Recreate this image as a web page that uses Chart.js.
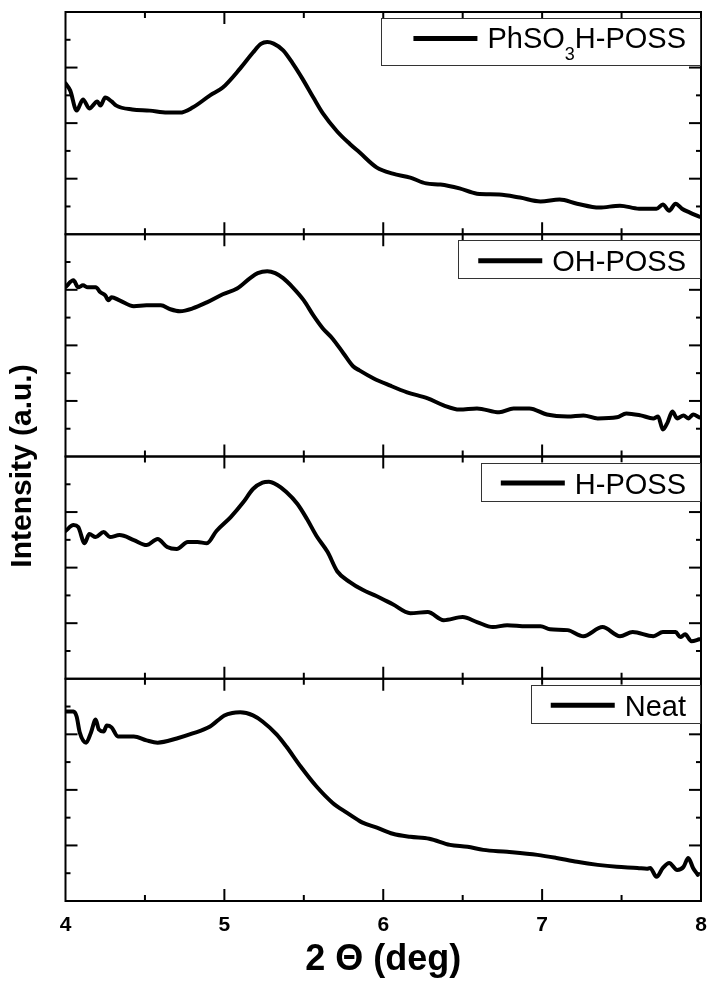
<!DOCTYPE html>
<html>
<head>
<meta charset="utf-8">
<script src="https://cdn.jsdelivr.net/npm/chart.js@4.4.1/dist/chart.umd.min.js"></script>
<style>
html,body{margin:0;padding:0;background:#fff;}
#wrap{width:707px;height:982px;position:relative;}
canvas{display:block;}
</style>
</head>
<body>
<div id="wrap"><canvas id="c" width="707" height="982"></canvas></div>
<script>
// ---------------- data ----------------
const xTickLabels = [4, 5, 6, 7, 8];
const seriesLabels = ['PhSO_3H-POSS', 'OH-POSS', 'H-POSS', 'Neat']; // top to bottom, "_3" = subscript

const xPh = [4.00,4.03,4.07,4.11,4.15,4.20,4.22,4.25,4.29,4.32,4.42,4.53,4.64,4.72,4.80,4.91,4.99,5.10,5.18,5.23,5.27,5.31,5.37,5.43,5.49,5.56,5.62,5.71,5.79,5.85,5.96,6.06,6.17,6.27,6.36,6.48,6.59,6.73,6.86,6.99,7.11,7.22,7.36,7.49,7.61,7.72,7.76,7.80,7.84,7.88,7.93,7.99];
const yPh = [5.43,5.17,4.45,4.85,4.53,4.78,4.63,4.92,4.78,4.63,4.49,4.45,4.38,4.38,4.56,5.00,5.28,5.97,6.54,6.85,6.92,6.86,6.62,6.15,5.61,4.92,4.35,3.70,3.25,2.95,2.40,2.18,2.04,1.83,1.79,1.65,1.46,1.43,1.32,1.18,1.25,1.10,0.96,1.03,0.92,0.92,1.07,0.85,1.10,0.92,0.78,0.63];

const xOH = [4.00,4.05,4.08,4.11,4.14,4.19,4.22,4.25,4.27,4.29,4.34,4.43,4.51,4.60,4.66,4.72,4.80,4.89,4.99,5.08,5.16,5.21,5.27,5.32,5.37,5.43,5.50,5.56,5.62,5.68,5.75,5.81,5.85,5.94,6.04,6.15,6.28,6.38,6.48,6.59,6.73,6.82,6.92,7.03,7.16,7.26,7.35,7.47,7.53,7.62,7.70,7.73,7.76,7.79,7.82,7.85,7.89,7.92,7.95,7.99];
const yOH = [6.10,6.34,6.09,6.16,6.09,6.09,5.91,5.80,5.62,5.73,5.62,5.41,5.44,5.44,5.30,5.23,5.33,5.55,5.84,6.05,6.41,6.60,6.67,6.60,6.42,6.09,5.62,5.08,4.61,4.25,3.71,3.25,3.10,2.81,2.56,2.31,2.09,1.84,1.69,1.73,1.59,1.73,1.73,1.51,1.44,1.48,1.37,1.41,1.55,1.48,1.37,1.44,0.97,1.23,1.62,1.37,1.48,1.37,1.51,1.41];

const xH = [4.00,4.05,4.08,4.12,4.15,4.19,4.24,4.28,4.34,4.43,4.51,4.58,4.64,4.70,4.77,4.83,4.89,4.95,5.04,5.12,5.18,5.24,5.28,5.33,5.39,5.46,5.52,5.58,5.65,5.71,5.79,5.87,5.96,6.06,6.17,6.28,6.38,6.50,6.59,6.69,6.78,6.90,6.99,7.05,7.16,7.26,7.38,7.49,7.57,7.70,7.76,7.84,7.87,7.90,7.94,7.99];
const yH = [5.32,5.53,5.46,4.88,5.21,5.10,5.28,5.10,5.17,4.99,4.81,5.03,4.74,4.67,4.92,4.92,4.88,5.32,5.82,6.36,6.83,7.06,7.09,6.98,6.72,6.29,5.75,5.14,4.56,3.87,3.48,3.20,2.97,2.68,2.36,2.40,2.11,2.22,2.04,1.86,1.93,1.89,1.89,1.78,1.75,1.53,1.86,1.53,1.68,1.53,1.68,1.68,1.50,1.60,1.35,1.42];

const xNeat = [4.00,4.05,4.07,4.09,4.13,4.16,4.19,4.21,4.24,4.26,4.29,4.33,4.43,4.51,4.58,4.70,4.80,4.91,5.00,5.05,5.10,5.18,5.24,5.33,5.39,5.48,5.58,5.68,5.77,5.84,5.87,5.96,6.06,6.17,6.29,6.42,6.53,6.63,6.78,6.97,7.09,7.22,7.35,7.47,7.60,7.66,7.68,7.72,7.76,7.80,7.85,7.89,7.92,7.95,7.98];
const yNeat = [6.82,6.82,6.64,6.06,5.70,6.06,6.53,6.17,6.10,6.32,6.25,5.92,5.92,5.78,5.70,5.85,6.03,6.28,6.68,6.77,6.79,6.68,6.46,5.99,5.56,4.84,4.12,3.54,3.18,2.92,2.82,2.64,2.42,2.31,2.24,2.02,1.95,1.84,1.77,1.66,1.55,1.41,1.30,1.23,1.19,1.16,1.19,0.87,1.19,1.37,1.12,1.23,1.55,1.19,0.94];

// ---------------- chart ----------------
const FONT = "'Liberation Sans', Arial, Helvetica, sans-serif";
const panelIds = ['yPh', 'yOH', 'yH', 'yNeat']; // top to bottom
const xs = [xPh, xOH, xH, xNeat];
const ys = [yPh, yOH, yH, yNeat];

const datasets = panelIds.map((id, i) => ({
  label: seriesLabels[i],
  data: xs[i].map((x, k) => ({x: x, y: ys[i][k]})),
  yAxisID: id,
  borderColor: '#000',
  backgroundColor: '#000',
  borderWidth: 4,
  pointRadius: 0,
  cubicInterpolationMode: 'monotone',
  borderJoinStyle: 'round',
  borderCapStyle: 'round',
  fill: false
}));

function yAxis() {
  return {
    type: 'linear', position: 'left', stack: 'panels', stackWeight: 1,
    min: 0, max: 8, offset: false,
    ticks: {display: false, stepSize: 1},
    grid: {display: false, drawTicks: false},
    border: {display: false},
    afterFit: s => { s.width = 0; s.paddingTop = 0; s.paddingBottom = 0; }
  };
}

// first defined left axis is placed at the bottom of the stack
const scales = {
  x: {
    type: 'linear', position: 'bottom', min: 4, max: 8, offset: false,
    ticks: {
      stepSize: 1, autoSkip: false, maxRotation: 0, padding: 12, color: '#000',
      font: {family: FONT, size: 21, weight: 'bold'},
      callback: v => xTickLabels.includes(v) ? String(v) : ''
    },
    grid: {display: false, drawTicks: false},
    border: {display: false},
    title: {display: true, text: '2 Θ (deg)', color: '#000',
      font: {family: FONT, size: 36, weight: 'bold'}, padding: {top: 0, bottom: 0}},
    afterFit: s => { s.height = 81; s.paddingLeft = 0; s.paddingRight = 0; }
  },
  yNeat: yAxis(), yH: yAxis(), yOH: yAxis(), yPh: yAxis()
};

function line(ctx, x1, y1, x2, y2) {
  ctx.beginPath(); ctx.moveTo(x1, y1); ctx.lineTo(x2, y2); ctx.stroke();
}

const framePlugin = {
  id: 'frames',
  afterDatasetsDraw(chart) {
    const ctx = chart.ctx;
    const xsc = chart.scales.x;
    const L = chart.chartArea.left, R = chart.chartArea.right;
    ctx.save();
    ctx.strokeStyle = '#000';
    ctx.lineWidth = 2;
    ctx.lineCap = 'butt';
    panelIds.forEach(id => {
      const s = chart.scales[id];
      const T = s.top, B = s.bottom;
      ctx.strokeRect(L, T, R - L, B - T);
      for (let k = 1; k < 8; k++) {
        const v = 4 + k * 0.5;
        const px = xsc.getPixelForValue(v);
        const len = (k % 2 === 0) ? 12 : 6;
        line(ctx, px, T, px, T + len);
        line(ctx, px, B, px, B - len);
      }
      s.ticks.forEach(t => {
        if (t.value <= s.min || t.value >= s.max) return;
        const py = s.getPixelForValue(t.value);
        const len = (t.value % 2 === 0) ? 12 : 5;
        line(ctx, L, py, L + len, py);
        line(ctx, R, py, R - len, py);
      });
    });
    ctx.restore();
  },
  afterDraw(chart) {
    const ctx = chart.ctx;
    const R = chart.chartArea.right;
    ctx.save();
    // y title
    ctx.fillStyle = '#000';
    ctx.font = "bold 30px " + FONT;
    ctx.textAlign = 'center';
    ctx.textBaseline = 'alphabetic';
    ctx.translate(31, 466);
    ctx.rotate(-Math.PI / 2);
    ctx.fillText('Intensity (a.u.)', 0, 0);
    ctx.restore();

    // legends
    panelIds.forEach((id, i) => {
      const s = chart.scales[id];
      const label = chart.data.datasets[i].label;
      const parts = [];
      const m = label.split('_');
      parts.push({t: m[0], sub: false});
      if (m.length > 1) {
        parts.push({t: m[1].charAt(0), sub: true});
        parts.push({t: m[1].slice(1), sub: false});
      }
      ctx.save();
      let tw = 0;
      parts.forEach(p => {
        ctx.font = (p.sub ? '18px ' : '29px ') + FONT;
        p.w = ctx.measureText(p.t).width;
        tw += p.w;
      });
      const hasSub = parts.length > 1;
      const boxR = R - 1;
      const boxTop = s.top + 6;
      const boxH = hasSub ? 47 : 38;
      const lineLen = 64, gap = 10, padR = 14, padL = hasSub ? 32 : 20;
      const boxL = boxR - (padL + lineLen + gap + tw + padR);
      ctx.fillStyle = '#fff';
      ctx.fillRect(boxL, boxTop, boxR - boxL, boxH);
      ctx.strokeStyle = '#333';
      ctx.lineWidth = 1;
      ctx.strokeRect(Math.round(boxL) + 0.5, Math.round(boxTop) + 0.5, Math.round(boxR - boxL), boxH);
      const ly = boxTop + 20.5;
      ctx.strokeStyle = '#000';
      ctx.lineWidth = 5;
      ctx.lineCap = 'butt';
      line(ctx, boxL + padL, ly, boxL + padL + lineLen, ly);
      let tx = boxL + padL + lineLen + gap;
      const base = boxTop + (hasSub ? 30 : 31);
      ctx.fillStyle = '#000';
      ctx.textAlign = 'left';
      ctx.textBaseline = 'alphabetic';
      parts.forEach(p => {
        ctx.font = (p.sub ? '18px ' : '29px ') + FONT;
        ctx.fillText(p.t, tx, p.sub ? base + 12 : base);
        tx += p.w;
      });
      ctx.restore();
    });
  }
};

new Chart(document.getElementById('c'), {
  type: 'line',
  data: {datasets: datasets},
  options: {
    responsive: false,
    animation: false,
    events: [],
    layout: {padding: {left: 65.5, right: 6, top: 12, bottom: 0}},
    plugins: {legend: {display: false}, tooltip: {enabled: false}, title: {display: false}},
    scales: scales
  },
  plugins: [framePlugin]
});
</script>
</body>
</html>
